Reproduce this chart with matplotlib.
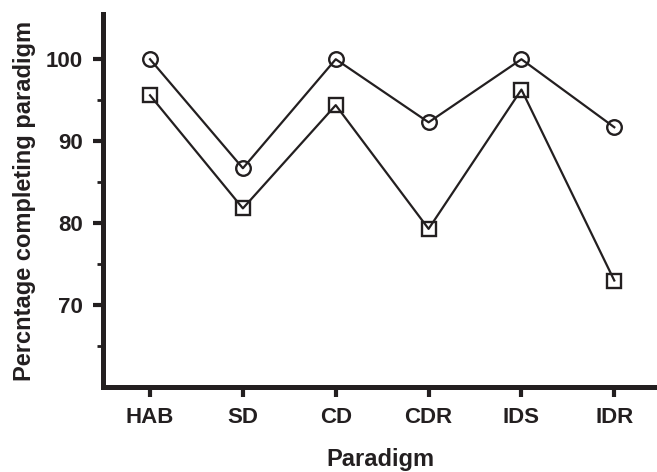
import numpy as np
import matplotlib.pyplot as plt

# Данные
paradigms = ["HAB", "SD", "CD", "CDR", "IDS", "IDR"]
circles = [100, 86.7, 100, 92.3, 100, 91.7]
squares = [95.6, 81.8, 94.4, 79.3, 96.3, 73.0]

ink = "#231f20"
plt.rcParams["font.family"] = ["Liberation Sans", "DejaVu Sans"]
plt.rcParams["font.weight"] = "bold"

fig = plt.figure(figsize=(6.57, 4.72), dpi=100)
ax = fig.add_axes([0.157, 0.180, 0.843, 0.790])

x = np.arange(len(paradigms))
ax.plot(x, circles, color=ink, lw=1.6, marker="o", ms=10.5,
        mfc="none", mec=ink, mew=1.7)
ax.plot(x, squares, color=ink, lw=1.6, marker="s", ms=10.5,
        mfc="none", mec=ink, mew=1.7)

ax.set_xlim(-0.505, 5.46)
ax.set_ylim(60, 105.5)
ax.set_xticks(x)
ax.set_xticklabels(paradigms)
ax.set_yticks([70, 80, 90, 100])
ax.set_yticks([65, 75, 85, 95], minor=True)

for side in ["top", "right"]:
    ax.spines[side].set_visible(False)
for side in ["left", "bottom"]:
    ax.spines[side].set_linewidth(3.6)
    ax.spines[side].set_color(ink)

ax.tick_params(which="major", length=7.5, width=3, color=ink,
               labelsize=16, pad=7, labelcolor=ink)
ax.tick_params(which="minor", length=4, width=2, color=ink)

ax.set_xlabel("Paradigm", fontsize=17, fontweight="bold", color=ink, labelpad=14)
ax.set_ylabel("Percntage completing paradigm", fontsize=17,
              fontweight="bold", color=ink, labelpad=7)

fig.savefig("out.png", dpi=100)
